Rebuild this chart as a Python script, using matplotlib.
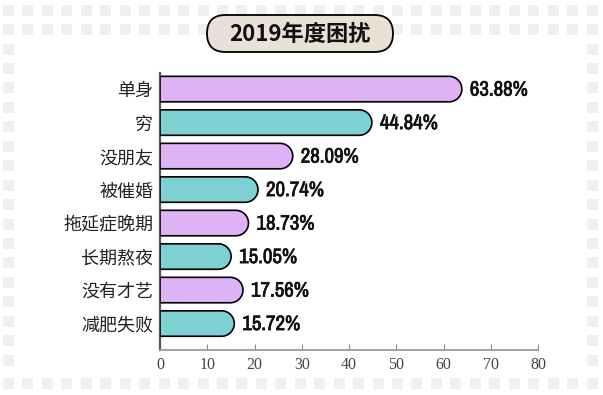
import numpy as np
import matplotlib
matplotlib.use('Agg')
import matplotlib.pyplot as plt
import matplotlib.patheffects as pe
from matplotlib.path import Path
from matplotlib.patches import PathPatch, Rectangle, FancyBboxPatch
from matplotlib import font_manager

categories = ['单身', '穷', '没朋友', '被催婚', '拖延症晚期', '长期熬夜', '没有才艺', '减肥失败']
values = [63.88, 44.84, 28.09, 20.74, 18.73, 15.05, 17.56, 15.72]
labels = ['63.88%', '44.84%', '28.09%', '20.74%', '18.73%', '15.05%', '17.56%', '15.72%']
title = '2019年度困扰'
x_ticks = [0, 10, 20, 30, 40, 50, 60, 70, 80]

PURPLE = '#DDB3F6'
TEAL = '#7ED1D3'
colors = [PURPLE if i % 2 == 0 else TEAL for i in range(len(categories))]

plt.rcParams['font.family'] = ['Noto Sans CJK SC', 'DejaVu Sans']

# narrow face for the value labels, if one is installed
names = sorted({f.name for f in font_manager.fontManager.ttflist})
narrow = [n for n in names if any(k in n for k in ('Condensed', 'Narrow', 'Compressed'))]
label_family = narrow + ['DejaVu Sans']

W, H = 603, 395
fig = plt.figure(figsize=(W / 100, H / 100), dpi=100)
fig.patch.set_facecolor('white')

# ── background layer in pixel coords ──────────────────────────────
bg = fig.add_axes([0, 0, 1, 1], zorder=0)
bg.set_xlim(0, W)
bg.set_ylim(H, 0)
bg.axis('off')

sq, pitch = 11, 19.45
xs = np.arange(3, W - 10, pitch)
def square(x, y):
    bg.add_patch(Rectangle((x, y), sq, sq, facecolor='#F0F0F0', edgecolor='none'))
for x in xs:
    square(x, 5)
    square(x, 24)
    square(x, 378)
for y in np.arange(43.5, 370, pitch):
    square(3, y)
    square(xs[-1], y)

# title pill
bg.add_patch(FancyBboxPatch((207, 15), 186, 37,
                            boxstyle='round,pad=0,rounding_size=18.5',
                            facecolor='#E9E0D6', edgecolor='black', lw=1.3))
bg.text(300, 34, title, ha='center', va='center', fontsize=16,
        fontweight='bold', color='#111111')

# ── axes ──────────────────────────────────────────────────────────
ax = fig.add_axes([160 / W, 1 - 350 / H, 378 / W, 277 / H], zorder=1)
ax.set_facecolor('none')
ax.set_xlim(0, 80)
n = len(categories)
ax.set_ylim(n - 1 + 0.79, -0.48)

fig.canvas.draw()
px_per_x = ax.transData.transform((1, 0))[0] - ax.transData.transform((0, 0))[0]
px_per_y = ax.transData.transform((0, 0))[1] - ax.transData.transform((0, 1))[1]

bar_h = 0.76
r_y = bar_h / 2
r_x = r_y * px_per_y / px_per_x
t = np.linspace(-np.pi / 2, np.pi / 2, 40)
for i, (v, c) in enumerate(zip(values, colors)):
    cx = v - r_x
    verts = ([(0, i - r_y), (cx, i - r_y)]
             + [(cx + r_x * np.cos(a), i + r_y * np.sin(a)) for a in t]
             + [(0, i + r_y), (0, i - r_y)])
    ax.add_patch(PathPatch(Path(verts), facecolor=c, edgecolor='black', lw=1.2,
                           zorder=3, joinstyle='round'))
    ax.text(v + 1.7, i + 0.03, labels[i], ha='left', va='center', fontsize=15,
            fontweight='bold', fontstretch='condensed',
            family=label_family, color='#111111',
            path_effects=[pe.withStroke(linewidth=0.5, foreground='#111111')])

ax.set_yticks(range(n))
ax.set_yticklabels(categories, fontsize=13, color='#222222')
ax.tick_params(axis='y', length=0, pad=5)
ax.set_xticks(x_ticks)
ax.set_xticklabels([str(x) for x in x_ticks], fontsize=11.5, color='#444444',
                   family=['Liberation Serif'])
ax.tick_params(axis='x', direction='in', length=4, color='#888888', pad=5)
for s in ['top', 'right']:
    ax.spines[s].set_visible(False)
ax.spines['left'].set_color('#555555')
ax.spines['left'].set_linewidth(1.6)
ax.spines['bottom'].set_color('#999999')
ax.spines['bottom'].set_linewidth(1.3)

fig.savefig('out.png', dpi=100)
